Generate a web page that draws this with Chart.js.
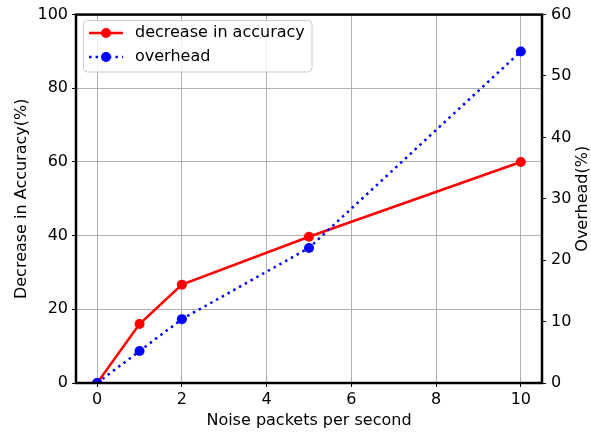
<!DOCTYPE html>
<html><head><meta charset="utf-8">
<script src="https://cdn.jsdelivr.net/npm/chart.js@4.4.0/dist/chart.umd.min.js"></script>
<style>html,body{margin:0;padding:0;background:#fff}#wrap{width:591px;height:434px}</style>
</head><body><div id="wrap"><canvas id="c" width="591" height="434"></canvas></div>
<script>
const noiseRates = [0, 1, 2, 5, 10];
const accuracyDecrease = [0, 16, 26.7, 39.7, 60];
const overhead = [0, 5.2, 10.4, 22, 54];
const xTicks = [0, 2, 4, 6, 8, 10];
const leftTicks = [0, 20, 40, 60, 80, 100];
const rightTicks = [0, 10, 20, 30, 40, 50, 60];
const seriesNames = ['decrease in accuracy', 'overhead'];
const axisTitles = {x: 'Noise packets per second', left: 'Decrease in Accuracy(%)', right: 'Overhead(%)'};

const FONT = '"DejaVu Sans", sans-serif';
const FS = 16;

const framePlugin = {
  id: 'frame',
  afterDraw(chart) {
    const ctx = chart.ctx, a = chart.chartArea;
    ctx.save();
    ctx.strokeStyle = '#000'; ctx.lineWidth = 2.5;
    ctx.strokeRect(a.left, a.top, a.right - a.left, a.bottom - a.top);
    // titles
    ctx.fillStyle = '#000';
    ctx.font = FS + 'px ' + FONT;
    ctx.textAlign = 'center'; ctx.textBaseline = 'middle';
    ctx.fillText(axisTitles.x, (a.left + a.right) / 2, 421);
    ctx.save(); ctx.translate(22, (a.top + a.bottom) / 2); ctx.rotate(-Math.PI / 2);
    ctx.fillText(axisTitles.left, 0, 0); ctx.restore();
    ctx.save(); ctx.translate(583, (a.top + a.bottom) / 2); ctx.rotate(-Math.PI / 2);
    ctx.fillText(axisTitles.right, 0, 0); ctx.restore();
    // legend
    const bx = 83.5, by = 20.5, bw = 228.5, bh = 51.5, r = 4;
    ctx.beginPath();
    ctx.moveTo(bx + r, by); ctx.lineTo(bx + bw - r, by); ctx.quadraticCurveTo(bx + bw, by, bx + bw, by + r);
    ctx.lineTo(bx + bw, by + bh - r); ctx.quadraticCurveTo(bx + bw, by + bh, bx + bw - r, by + bh);
    ctx.lineTo(bx + r, by + bh); ctx.quadraticCurveTo(bx, by + bh, bx, by + bh - r);
    ctx.lineTo(bx, by + r); ctx.quadraticCurveTo(bx, by, bx + r, by); ctx.closePath();
    ctx.fillStyle = 'rgba(255,255,255,0.8)'; ctx.fill();
    ctx.strokeStyle = '#cccccc'; ctx.lineWidth = 1; ctx.stroke();
    const rows = [33, 57];
    chart.data.datasets.forEach((ds, i) => {
      const y = rows[i];
      ctx.strokeStyle = ds.borderColor; ctx.lineWidth = ds.borderWidth;
      ctx.setLineDash(ds.borderDash || []);
      ctx.beginPath(); ctx.moveTo(89, y); ctx.lineTo(123, y); ctx.stroke();
      ctx.setLineDash([]);
      ctx.fillStyle = ds.pointBackgroundColor;
      ctx.beginPath(); ctx.arc(106, y, 5, 0, Math.PI * 2); ctx.fill();
      ctx.fillStyle = '#000'; ctx.textAlign = 'left';
      ctx.fillText(ds.label, 135, y);
    });
    ctx.restore();
  }
};

new Chart(document.getElementById('c'), {
  type: 'line',
  data: {
    datasets: [
      {label: seriesNames[0], data: noiseRates.map((x, i) => ({x, y: accuracyDecrease[i]})), yAxisID: 'y',
       borderColor: '#ff0000', backgroundColor: '#ff0000', pointBackgroundColor: '#ff0000', pointBorderWidth: 0,
       borderWidth: 2.5, pointRadius: 5, tension: 0, order: 1},
      {label: seriesNames[1], data: noiseRates.map((x, i) => ({x, y: overhead[i]})), yAxisID: 'y2',
       borderColor: '#0000ff', backgroundColor: '#0000ff', pointBackgroundColor: '#0000ff', pointBorderWidth: 0,
       borderWidth: 2.5, borderDash: [2.5, 4.1], pointRadius: 5, tension: 0, order: 0}
    ]
  },
  options: {
    responsive: false, animation: false, devicePixelRatio: 1,
    layout: {padding: {top: 12, right: 0, left: 0, bottom: 0}},
    plugins: {legend: {display: false}, tooltip: {enabled: false}},
    scales: {
      x: {type: 'linear', min: -0.5, max: 10.5,
        afterBuildTicks: s => { s.ticks = xTicks.map(v => ({value: v})); },
        afterFit: s => { s.height = 51; },
        grid: {color: '#b0b0b0', lineWidth: 1, tickColor: '#000', tickLength: 4, drawTicks: true},
        border: {display: false},
        ticks: {color: '#000', font: {family: FONT, size: FS}, padding: 3, maxRotation: 0}},
      y: {type: 'linear', position: 'left', min: 0, max: 100,
        afterBuildTicks: s => { s.ticks = leftTicks.map(v => ({value: v})); },
        afterFit: s => { s.width = 76; },
        grid: {color: '#b0b0b0', lineWidth: 1, tickColor: '#000', tickLength: 4},
        border: {display: false},
        ticks: {color: '#000', font: {family: FONT, size: FS}, padding: 4}},
      y2: {type: 'linear', position: 'right', min: 0, max: 60,
        afterBuildTicks: s => { s.ticks = rightTicks.map(v => ({value: v})); },
        afterFit: s => { s.width = 49; },
        grid: {drawOnChartArea: false, tickColor: '#000', tickLength: 4},
        border: {display: false},
        ticks: {color: '#000', font: {family: FONT, size: FS}, padding: 5}}
    }
  },
  plugins: [framePlugin]
});
</script></body></html>
